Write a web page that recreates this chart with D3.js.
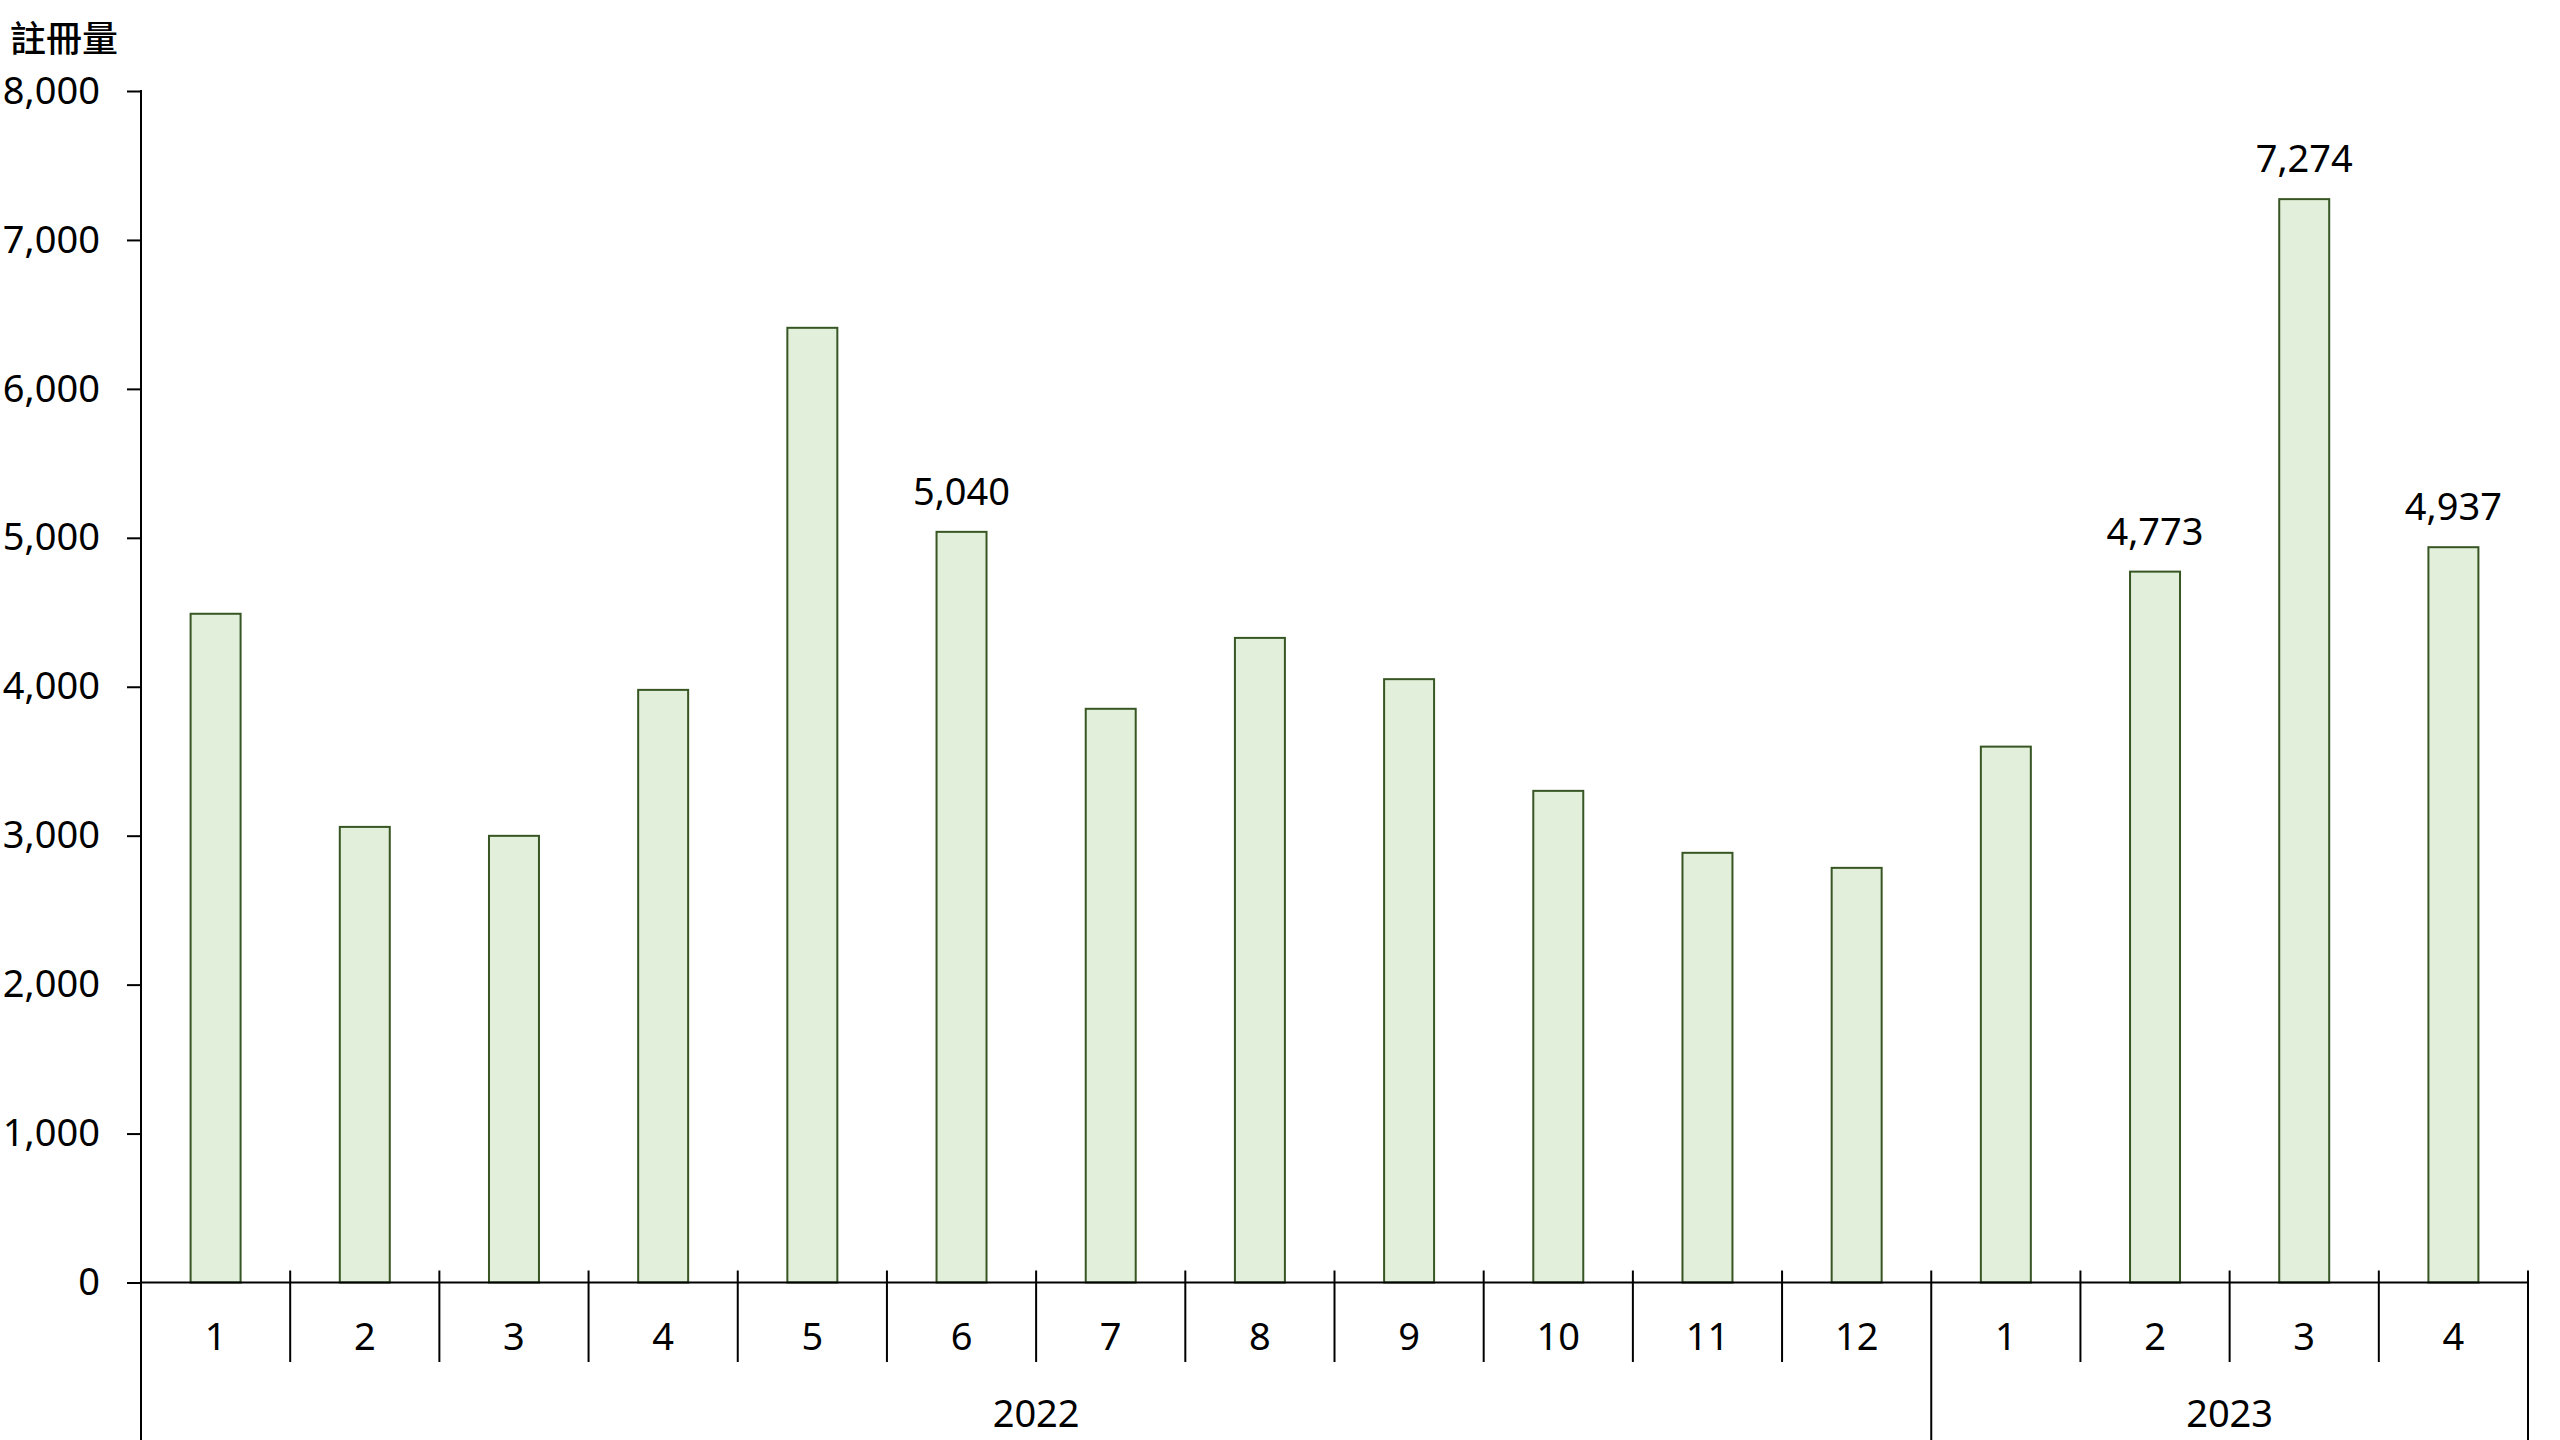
<!DOCTYPE html>
<html>
<head>
<meta charset="utf-8">
<script src="https://cdn.jsdelivr.net/npm/d3@7"></script>
<style>
  html, body { margin: 0; padding: 0; background: #fff; }
  svg { display: block; }
  text { font-family: "Noto Sans", "Noto Sans CJK TC", sans-serif; fill: #000; }
</style>
</head>
<body>
<svg id="chart" width="2560" height="1440"></svg>
<script>
// ---- data ----
const months = ["1","2","3","4","5","6","7","8","9","10","11","12","1","2","3","4"];
const years = ["2022","2023"];
const yearOfMonth = [0,0,0,0,0,0,0,0,0,0,0,0,1,1,1,1];
const values = [4490, 3059, 2999, 3979, 6410, 5040, 3852, 4328, 4051, 3301, 2885, 2784, 3598, 4773, 7274, 4937];
const labeled = [5, 13, 14, 15];
const yTicks = [0, 1000, 2000, 3000, 4000, 5000, 6000, 7000, 8000];
const yTitle = "註冊量";

// ---- layout ----
const svg = d3.select("#chart");
const x0 = 141, x1 = 2528, yBase = 1282.5, yTop = 91;
const keys = months.map((m, i) => i);
const x = d3.scaleBand().domain(keys).range([x0, x1]).padding(0);
const y = d3.scaleLinear().domain([0, 8000]).range([yBase, yTop]);
const barW = x.bandwidth() * 0.335;
const fmt = d3.format(",");

// bars
svg.append("g").selectAll("rect").data(values).join("rect")
  .attr("x", (d, i) => x(i) + (x.bandwidth() - barW) / 2)
  .attr("y", d => y(d))
  .attr("width", barW)
  .attr("height", d => y(0) - y(d))
  .attr("fill", "#E2EFDA")
  .attr("stroke", "#375623")
  .attr("stroke-width", 2);

// data labels
svg.append("g").selectAll("text").data(labeled).join("text")
  .attr("x", i => x(i) + x.bandwidth() / 2)
  .attr("y", i => y(values[i]) - 27)
  .attr("text-anchor", "middle")
  .attr("font-size", 38)
  .text(i => fmt(values[i]));

// y axis
const yAxis = d3.axisLeft(y).tickValues(yTicks).tickFormat(fmt)
  .tickSize(14).tickSizeOuter(0).tickPadding(27);
const gy = svg.append("g").attr("transform", `translate(${x0},0)`).call(yAxis);
gy.select(".domain").remove();
gy.selectAll(".tick line").attr("stroke", "#000").attr("stroke-width", 2);
gy.selectAll(".tick text").attr("font-size", 38).attr("font-family", "Noto Sans").attr("fill", "#000");

// y axis line
svg.append("line").attr("x1", x0).attr("x2", x0).attr("y1", yTop - 1).attr("y2", 1440)
  .attr("stroke", "#000").attr("stroke-width", 2);

// x axis baseline
svg.append("line").attr("x1", x0).attr("x2", x1).attr("y1", yBase).attr("y2", yBase)
  .attr("stroke", "#000").attr("stroke-width", 2);

// category boundaries
const boundaries = d3.range(1, months.length + 1);
svg.append("g").selectAll("line").data(boundaries).join("line")
  .attr("x1", b => b < months.length ? x(b) : x1)
  .attr("x2", b => b < months.length ? x(b) : x1)
  .attr("y1", yBase - 12)
  .attr("y2", b => (b === months.length || yearOfMonth[b] !== yearOfMonth[b - 1]) ? 1440 : 1362)
  .attr("stroke", "#000").attr("stroke-width", 2);

// month labels
svg.append("g").selectAll("text").data(months).join("text")
  .attr("x", (d, i) => x(i) + x.bandwidth() / 2)
  .attr("y", 1350)
  .attr("text-anchor", "middle")
  .attr("font-size", 38)
  .text(d => d);

// year labels
svg.append("g").selectAll("text").data(years).join("text")
  .attr("x", (d, yi) => {
    const idx = keys.filter(i => yearOfMonth[i] === yi);
    const a = x(idx[0]), b = x(idx[idx.length - 1]) + x.bandwidth();
    return (a + b) / 2;
  })
  .attr("y", 1427)
  .attr("text-anchor", "middle")
  .attr("font-size", 38)
  .text(d => d);

// y title
svg.append("text").attr("x", 10).attr("y", 52)
  .attr("font-size", 36)
  .attr("font-family", "Noto Sans CJK TC")
  .attr("font-weight", 500)
  .text(yTitle);
</script>
</body>
</html>
